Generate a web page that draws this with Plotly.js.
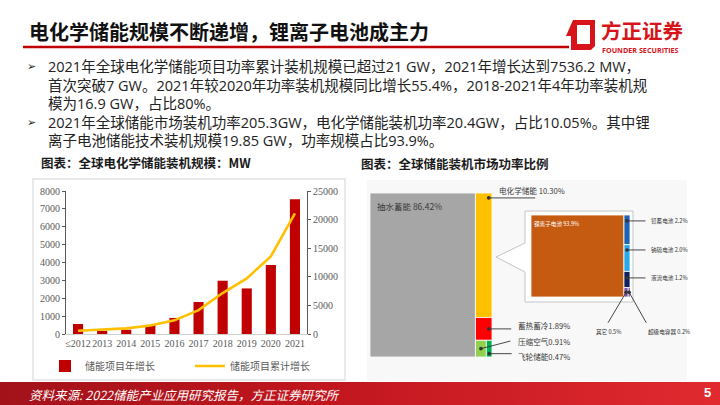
<!DOCTYPE html>
<html><head><meta charset="utf-8">
<script src="https://cdn.plot.ly/plotly-3.0.1.min.js"></script>
<style>
html,body{margin:0;padding:0;background:#fff;}
#wrap{position:relative;width:720px;height:405px;overflow:hidden;background:#fff;}
#footer{position:absolute;left:0;top:382px;width:720px;height:23px;background:linear-gradient(90deg,#a3121a 0%,#c1161e 45%,#e02a30 100%);}
#chart{position:absolute;left:0;top:0;width:720px;height:405px;}
</style></head><body>
<div id="wrap"><div id="footer"></div><div id="chart"></div></div>
<script>
// ---------- data ----------
const years = ["≤2012","2013","2014","2015","2016","2017","2018","2019","2020","2021"];
const annualMW = [560, 180, 240, 510, 900, 1790, 2980, 2550, 3860, 7536];
const cumulativeMW = [560, 740, 980, 1490, 2390, 4180, 7160, 9710, 13570, 21100];
const seriesNames = ["储能项目年增长", "储能项目累计增长"];

const marketNames = ["抽水蓄能", "电化学储能", "蓄热蓄冷", "压缩空气", "飞轮储能"];
const marketShare = [86.42, 10.30, 1.89, 0.91, 0.47];
const echemNames = ["锂离子电池", "铅蓄电池", "钠硫电池", "液流电池", "其它", "超级电容器"];
const echemShare = [93.9, 2.2, 2.0, 1.2, 0.5, 0.2];

const bullets = [
  "2021年全球电化学储能项目功率累计装机规模已超过21 GW，2021年增长达到7536.2 MW，",
  "首次突破7 GW。2021年较2020年功率装机规模同比增长55.4%，2018-2021年4年功率装机规",
  "模为16.9 GW，占比80%。",
  "2021年全球储能市场装机功率205.3GW，电化学储能装机功率20.4GW，占比10.05%。其中锂",
  "离子电池储能技术装机规模19.85 GW，功率规模占比93.9%。"
];

// ---------- helpers ----------
const W = 720, H = 405;
const px = x => x / W;
const py = y => 1 - y / H;
const CJK = '"Noto Sans CJK SC", "Noto Sans", sans-serif';
const MIXED = '"Open Sans", "Noto Sans CJK SC", sans-serif';
const SERIF = '"Liberation Serif", "Times New Roman", serif';

function rectBar(xa, ya, x0, x1, y0, y1, color) {
  return {
    type: 'bar', x: [(x0 + x1) / 2], width: [x1 - x0], base: [y0], y: [y1 - y0],
    marker: { color: color, line: { color: '#ffffff', width: 0.8 } },
    xaxis: xa, yaxis: ya, showlegend: false, hoverinfo: 'skip'
  };
}
function txt(x, y, text, size, color, extra) {
  return Object.assign({
    xref: 'paper', yref: 'paper', x: px(x), y: py(y), text: text, showarrow: false,
    xanchor: 'left', yanchor: 'middle', borderpad: 0, font: { family: CJK, size: size, color: color }
  }, extra || {});
}
function leader(xa, ya, x, y, ax, ay) {
  return { xref: xa, yref: ya, x: x, y: y, ax: ax, ay: ay, text: '', showarrow: true,
    arrowhead: 6, arrowsize: 1, arrowwidth: 0.9, arrowcolor: '#333333' };
}

// ---------- traces ----------
const traces = [];
traces.push({
  type: 'bar', x: years, y: annualMW, name: seriesNames[0],
  marker: { color: '#C00000' }, xaxis: 'x', yaxis: 'y', hoverinfo: 'skip'
});
traces.push({
  type: 'scatter', mode: 'lines', x: years, y: cumulativeMW, name: seriesNames[1],
  line: { color: '#FFC000', width: 2.6 }, xaxis: 'x', yaxis: 'y2', hoverinfo: 'skip'
});

// market share block (bar-of-bar)
const marketColors = ['#A6A6A6', '#FFC000', '#FF0000', '#92D050', '#00B050'];
const marketTotal = marketShare.reduce((a, b) => a + b, 0);
const pumped = marketShare[0];
const others = marketTotal - pumped;
const hGold = marketShare[1] / others * 100;
const hRed = marketShare[2] / others * 100;
const hGreen = 100 - hGold - hRed;
const lgW = others * marketShare[3] / (marketShare[3] + marketShare[4]);
traces.push(rectBar('x3', 'y3', 0, pumped, 0, 100, marketColors[0]));
traces.push(rectBar('x3', 'y3', pumped, marketTotal, 100 - hGold, 100, marketColors[1]));
traces.push(rectBar('x3', 'y3', pumped, marketTotal, hGreen, 100 - hGold, marketColors[2]));
traces.push(rectBar('x3', 'y3', pumped, pumped + lgW, 0, hGreen, marketColors[3]));
traces.push(rectBar('x3', 'y3', pumped + lgW, marketTotal, 0, hGreen, marketColors[4]));

// electrochemical breakdown
const echemColors = ['#C55A11', '#1F63B5', '#29A9EC', '#0E2060', '#7B52AB', '#1C1C50'];
const echemTotal = echemShare.reduce((a, b) => a + b, 0);
const li = echemShare[0];
const rest = echemTotal - li;
const hs = echemShare.slice(1).map(v => v / rest * 100);
const hBottom = hs[3] + hs[4];
const segTop1 = 100, segTop2 = 100 - hs[0], segTop3 = segTop2 - hs[1];
const otherW = rest * echemShare[4] / (echemShare[4] + echemShare[5]);
traces.push(rectBar('x4', 'y4', 0, li, 0, 100, echemColors[0]));
traces.push(rectBar('x4', 'y4', li, echemTotal, segTop2, segTop1, echemColors[1]));
traces.push(rectBar('x4', 'y4', li, echemTotal, segTop3, segTop2, echemColors[2]));
traces.push(rectBar('x4', 'y4', li, echemTotal, hBottom, segTop3, echemColors[3]));
traces.push(rectBar('x4', 'y4', li, li + otherW, 0, hBottom, echemColors[4]));
traces.push(rectBar('x4', 'y4', li + otherW, echemTotal, 0, hBottom, echemColors[5]));

// ---------- annotations ----------
const ann = [];
ann.push(txt(28, 31.5, '<b>电化学储能规模不断递增，锂离子电池成主力</b>', 20, '#111111'));
ann.push(txt(600, 30.5, '<b>方正证券</b>', 20.5, '#D7141A'));
ann.push(txt(601, 49.5, '<b>FOUNDER SECURITIES</b>', 7.2, '#D7141A', { font: { family: '"Open Sans", "DejaVu Sans", sans-serif', size: 7.2, color: '#D7141A' } }));

// bullet block: one text, 14.5px glyphs on an 18.6px line pitch
const bulletText = bullets.map(l => `<span style="font-size:14.5px">${l}</span>`).join('<br>');
ann.push(txt(47, 103.5, bulletText, 14.3, '#222222', { align: 'left', font: { family: MIXED, size: 14.3, color: '#222222' } }));
[66.5, 122.2].forEach(y => ann.push(txt(26, y, '➢', 11, '#222222', { font: { family: '"DejaVu Sans", sans-serif', size: 11, color: '#222222' } })));

ann.push(txt(40, 162, '<b>图表：全球电化学储能装机规模：MW</b>', 12.5, '#1a1a1a'));
ann.push(txt(360, 163, '<b>图表：全球储能装机市场功率比例</b>', 12.5, '#1a1a1a'));

// market labels
ann.push(txt(376, 206, `${marketNames[0]} ${marketShare[0].toFixed(2)}%`, 8.5, '#3a3a3a'));
ann.push(txt(498, 190, `${marketNames[1]} ${marketShare[1].toFixed(2)}%`, 7.6, '#3a3a3a'));
ann.push(txt(517, 325, `${marketNames[2]}${marketShare[2].toFixed(2)}%`, 7.6, '#3a3a3a'));
ann.push(txt(517, 341, `${marketNames[3]}${marketShare[3].toFixed(2)}%`, 7.6, '#3a3a3a'));
ann.push(txt(517, 356.5, `${marketNames[4]}${marketShare[4].toFixed(2)}%`, 7.6, '#3a3a3a'));
const colX = pumped + others * 0.8;
ann.push(leader('x3', 'y3', colX, 97, 48, 0));
ann.push(leader('x3', 'y3', colX, hGreen + hRed / 2, 24, 0));
ann.push(leader('x3', 'y3', pumped + lgW / 2, hGreen * 0.5, 31, -8));
ann.push(leader('x3', 'y3', pumped + lgW + (marketTotal - pumped - lgW) / 2, hGreen * 0.2, 24, 0));

// electrochem labels
ann.push(txt(533, 224, `${echemNames[0]} ${echemShare[0].toFixed(1)}%`, 5.6, '#ffffff'));
ann.push(txt(650, 221, `${echemNames[1]} ${echemShare[1].toFixed(1)}%`, 5.6, '#333333'));
ann.push(txt(650, 250, `${echemNames[2]} ${echemShare[2].toFixed(1)}%`, 5.6, '#333333'));
ann.push(txt(650, 278, `${echemNames[3]} ${echemShare[3].toFixed(1)}%`, 5.6, '#333333'));
ann.push(txt(595, 332, `${echemNames[4]} ${echemShare[4].toFixed(1)}%`, 5.6, '#333333'));
ann.push(txt(647, 332, `${echemNames[5]} ${echemShare[5].toFixed(1)}%`, 5.6, '#333333'));
const icx = li + rest / 2;
ann.push(leader('x4', 'y4', icx, segTop1 - hs[0] * 0.2, 20, 0));
ann.push(leader('x4', 'y4', icx, segTop2 - hs[1] * 0.2, 20, 0));
ann.push(leader('x4', 'y4', icx, segTop3 - hs[2] * 0.4, 20, 0));
ann.push(leader('x4', 'y4', li + otherW / 2, hBottom / 2, -19, 32));
ann.push(leader('x4', 'y4', li + otherW + (echemTotal - li - otherW) / 2, hBottom / 2, 18, 32));

// footer
ann.push(txt(28, 394, '资料来源: 2022储能产业应用研究报告，方正证券研究所', 12.5, '#ffffff', { font: { family: CJK, size: 12.5, color: '#ffffff', style: 'italic' } }));
ann.push(txt(703, 392.5, '<b>5</b>', 13, '#ffffff', { font: { family: '"Liberation Sans", Arial, sans-serif', size: 13, color: '#ffffff' } }));

// ---------- shapes (decoration) ----------
function pathP(pts) { return 'M' + pts.map(p => px(p[0]).toFixed(5) + ',' + py(p[1]).toFixed(5)).join(' L') + ' Z'; }
const shapes = [
  { type: 'rect', xref: 'paper', yref: 'paper', x0: px(33), x1: px(345), y0: py(380), y1: py(179), fillcolor: '#ffffff', line: { color: '#e2e2e2', width: 1.5 }, layer: 'below' },
  { type: 'rect', xref: 'paper', yref: 'paper', x0: px(367), x1: px(687), y0: py(381), y1: py(180), fillcolor: '#f8f8f8', line: { width: 0 }, layer: 'below' },
  { type: 'path', xref: 'paper', yref: 'paper', path: pathP([[525, 211], [633, 211], [633, 302], [525, 302], [525, 272], [496, 257], [525, 243]]), fillcolor: '#ffffff', line: { color: '#c4c4c4', width: 1 }, layer: 'below' },
  { type: 'line', xref: 'paper', yref: 'paper', x0: px(23), x1: px(569), y0: py(47), y1: py(47), line: { color: '#C00000', width: 2.5 } },
  { type: 'path', xref: 'paper', yref: 'paper', path: pathP([[573, 20], [595, 20], [595, 46], [591, 50], [571, 50], [571, 36], [566, 36]]), fillcolor: '#D7141A', line: { width: 0 } },
  { type: 'rect', xref: 'paper', yref: 'paper', x0: px(577), x1: px(590), y0: py(44), y1: py(25), fillcolor: '#ffffff', line: { width: 0 } }
];

// ---------- layout ----------
const tickFont = { family: SERIF, size: 10, color: '#595959' };
const layout = {
  width: W, height: H, margin: { l: 0, r: 0, t: 0, b: 0 },
  paper_bgcolor: 'rgba(0,0,0,0)', plot_bgcolor: 'rgba(0,0,0,0)',
  barmode: 'overlay', bargap: 0.58,
  showlegend: true,
  legend: { orientation: 'h', x: px(190), xanchor: 'center', y: py(366), yanchor: 'middle',
    font: { family: CJK, size: 10, color: '#595959' }, bgcolor: 'rgba(0,0,0,0)', itemwidth: 30,
    entrywidth: 100, entrywidthmode: 'pixels' },
  xaxis: { domain: [px(66), px(307)], anchor: 'y', type: 'category', tickfont: tickFont,
    showline: true, linecolor: '#d0d0d0', linewidth: 1, ticks: '', showgrid: false, zeroline: false, tickangle: 0, fixedrange: true },
  yaxis: { domain: [py(334), py(191)], anchor: 'x', range: [0, 8000], dtick: 1000, tickformat: 'd', tickfont: tickFont,
    showline: true, linecolor: '#595959', linewidth: 1, ticks: 'outside', ticklen: 3, tickcolor: '#595959',
    showgrid: false, zeroline: false, fixedrange: true },
  yaxis2: { overlaying: 'y', side: 'right', anchor: 'x', range: [0, 25000], dtick: 5000, tickformat: 'd', tickfont: tickFont,
    showline: true, linecolor: '#595959', linewidth: 1, ticks: 'outside', ticklen: 3, tickcolor: '#595959',
    showgrid: false, zeroline: false, fixedrange: true },
  xaxis3: { domain: [px(370), px(492)], anchor: 'y3', range: [0, marketTotal], visible: false, fixedrange: true },
  yaxis3: { domain: [py(357), py(193)], anchor: 'x3', range: [0, 100], visible: false, fixedrange: true },
  xaxis4: { domain: [px(531), px(630)], anchor: 'y4', range: [0, echemTotal], visible: false, fixedrange: true },
  yaxis4: { domain: [py(297), py(215)], anchor: 'x4', range: [0, 100], visible: false, fixedrange: true },
  annotations: ann,
  shapes: shapes
};

Plotly.newPlot('chart', traces, layout, { displayModeBar: false, staticPlot: true });
</script></body></html>
